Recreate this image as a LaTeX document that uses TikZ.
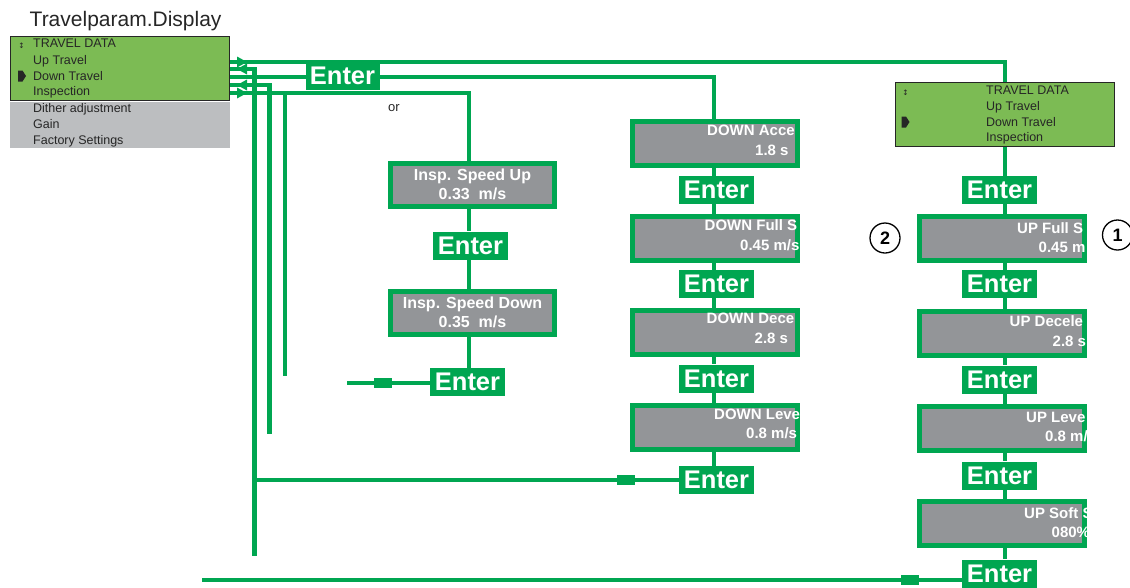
\documentclass[tikz,border=0pt]{standalone}
\usepackage{fontspec}
\setmainfont{Liberation Sans}
\newfontfamily\symfont{DejaVu Sans}
\definecolor{lg}{RGB}{0,166,81}
\definecolor{dispgreen}{RGB}{124,187,84}
\definecolor{dispgray}{RGB}{188,190,192}
\definecolor{boxgray}{RGB}{147,149,152}
\pgfdeclarelayer{bg}
\pgfsetlayers{bg,main}
\begin{document}
\begin{tikzpicture}[x=1pt,y=-1pt,
  conn/.style={draw=lg,line width=4.8pt},
  enterbox/.style={fill=lg,text=white,inner sep=0pt,minimum width=75pt,minimum height=28pt,font=\fontsize{25.5}{26}\selectfont\bfseries},
  valbox/.style={draw=lg,line width=5pt,fill=boxgray,inner sep=0pt,minimum width=165pt,minimum height=44pt},
  valtext/.style={text=white,inner sep=0pt,anchor=base west,font=\fontsize{15}{16}\selectfont\bfseries},
  insptext/.style={text=white,inner sep=0pt,anchor=base,font=\fontsize{16}{17}\selectfont\bfseries},
  disptext/.style={inner sep=0pt,anchor=base west,font=\fontsize{12.5}{14}\selectfont,text=black!85},
  display/.style={draw=black!85,line width=1.2pt,fill=dispgreen,inner sep=0pt,minimum width=218.8pt,minimum height=63.8pt},
  marker/.style={fill=lg,minimum width=18pt,minimum height=10pt,inner sep=0pt},
  numcirc/.style={draw=black,line width=1.3pt,circle,minimum size=30pt,inner sep=0pt,font=\fontsize{18}{18}\selectfont\bfseries},
  pointer/.style={fill=black!85}
]
\useasboundingbox (0,0) rectangle (1130,587);

% ---------- left display ----------
\node[inner sep=0pt,anchor=base west,font=\fontsize{21}{22}\selectfont,text=black!85] (title) at (29.5,26.7) {Travelparam.Display};
\node[display] (d1) at (120,68.5) {};
\node[fill=dispgray,inner sep=0pt,minimum width=220pt,minimum height=46pt] (d1g) at (120,125) {};
\node[disptext] (t1) at (33,47.8) {TRAVEL DATA};
\node[disptext] (t2) at (33,64.3) {Up Travel};
\node[disptext] (t3) at (33,80) {Down Travel};
\node[disptext] (t4) at (33,95.8) {Inspection};
\node[disptext] (t5) at (33,112.6) {Dither adjustment};
\node[disptext] (t6) at (33,128.4) {Gain};
\node[disptext] (t7) at (33,144.3) {Factory Settings};
\node[inner sep=0pt,text=black!85,font=\symfont\fontsize{7.5}{7.5}\selectfont] (s1) at (21.5,46) {↕};
\fill[pointer] (18,70.5) -- (22.5,70.5) -- (26,76) -- (22.5,81.5) -- (18,81.5) -- cycle;

% ---------- top Enter and "or" ----------
\node[enterbox,minimum width=74pt] (e0) at (342.5,76) {Enter};
\node[inner sep=0pt,anchor=base west,font=\fontsize{13}{14}\selectfont,text=black!85] (or) at (388,111) {or};

% ---------- inspection column ----------
\coordinate (ix) at (469,0);
\node[valbox,minimum width=164pt,minimum height=43pt] (iU) at (472.5,185) {};
\node[insptext] (iU1) at (472.5,180) {Insp. Speed Up};
\node[insptext] (iU2) at (472.5,199) {0.33\ \ m/s};
\node[enterbox] (iE1) at (470.5,245.5) {Enter};
\node[valbox,minimum width=164pt,minimum height=43pt] (iD) at (472.5,313) {};
\node[insptext] (iD1) at (472.5,308) {Insp. Speed Down};
\node[insptext] (iD2) at (472.5,327) {0.35\ \ m/s};
\node[enterbox] (iE2) at (467.5,382) {Enter};
\node[marker] (mi) at (383,383) {};
\coordinate (fi) at (347,383);

% ---------- DOWN column ----------
\coordinate (dx) at (714,0);
\node[valbox] (dA) at (715,143.5) {};
\node[enterbox] (dE1) at (716.5,190) {Enter};
\node[valbox] (dF) at (715,238.5) {};
\node[enterbox] (dE2) at (716.5,284) {Enter};
\node[valbox] (dD) at (715,332.5) {};
\node[enterbox] (dE3) at (716.5,378.5) {Enter};
\node[valbox] (dL) at (715,427.5) {};
\node[enterbox] (dE4) at (716.5,480) {Enter};
\node[marker] (md) at (625.5,480) {};

\begin{scope}
\clip (dA.north west) rectangle (dA.south east);
\node[valtext] (dA1) at (707,135.5) {DOWN Acce};
\node[valtext] (dA2) at (755,155.5) {1.8 s};
\end{scope}
\begin{scope}
\clip (dF.north west) rectangle (dF.south east);
\node[valtext] (dF1) at (704.5,230) {DOWN Full S};
\node[valtext] (dF2) at (740,250) {0.45 m/s};
\end{scope}
\begin{scope}
\clip (dD.north west) rectangle (dD.south east);
\node[valtext] (dD1) at (706.5,323.5) {DOWN Dece};
\node[valtext] (dD2) at (754.5,343) {2.8 s};
\end{scope}
\begin{scope}
\clip (dL.north west) rectangle (dL.south east);
\node[valtext] (dL1) at (714,419) {DOWN Leve};
\node[valtext] (dL2) at (746,438) {0.8 m/s};
\end{scope}

% ---------- UP column ----------
\coordinate (ux) at (1005,0);
\node[display] (d2) at (1005,114.5) {};
\node[disptext] (r1) at (986,94) {TRAVEL DATA};
\node[disptext] (r2) at (986,110) {Up Travel};
\node[disptext] (r3) at (986,126) {Down Travel};
\node[disptext] (r4) at (986,141.7) {Inspection};
\node[inner sep=0pt,text=black!85,font=\symfont\fontsize{7.5}{7.5}\selectfont] (s2) at (905.5,93) {↕};
\fill[pointer] (901.5,116.5) -- (906,116.5) -- (909.5,122) -- (906,127.5) -- (901.5,127.5) -- cycle;

\node[enterbox] (uE1) at (999.5,190) {Enter};
\node[valbox] (uF) at (1002,238.5) {};
\node[enterbox] (uE2) at (999.5,284) {Enter};
\node[valbox] (uD) at (1002,333.5) {};
\node[enterbox] (uE3) at (999.5,379.5) {Enter};
\node[valbox] (uL) at (1002,428.5) {};
\node[enterbox] (uE4) at (999.5,475.5) {Enter};
\node[valbox] (uS) at (1002,523.5) {};
\node[enterbox] (uE5) at (999.5,573.5) {Enter};
\node[marker] (mu) at (909.5,580) {};
\coordinate (fb) at (202,580);

\begin{scope}
\clip (uF.north west) rectangle (uF.south east);
\node[valtext] (uF1) at (1017,233.5) {UP Full S};
\node[valtext] (uF2) at (1038.5,252.5) {0.45 m};
\end{scope}
\begin{scope}
\clip (uD.north west) rectangle (uD.south east);
\node[valtext] (uD1) at (1009.5,326.5) {UP Decele};
\node[valtext] (uD2) at (1052.5,346) {2.8 s};
\end{scope}
\begin{scope}
\clip (uL.north west) rectangle (uL.south east);
\node[valtext] (uL1) at (1026,422) {UP Leve};
\node[valtext] (uL2) at (1045,441.5) {0.8 m/};
\end{scope}
\begin{scope}
\clip (uS.north west) rectangle (uS.south east);
\node[valtext] (uS1) at (1024,518) {UP Soft S};
\node[valtext] (uS2) at (1051.5,537) {080\%};
\end{scope}

\node[numcirc] (c2) at (885,238) {2};
\node[numcirc] (c1) at (1117.5,235) {1};

% ---------- routing coordinates ----------
\coordinate (k1) at (1005,62);
\coordinate (k2) at (254.5,69);
\coordinate (k2b) at (254.5,556);
\coordinate (k3) at (714,77);
\coordinate (k4) at (269.5,85);
\coordinate (k4b) at (269.5,434);
\coordinate (k5) at (469,93);
\coordinate (k6) at (285,93);
\coordinate (k6b) at (285,376);

% ---------- connectors ----------
\begin{pgfonlayer}{bg}
\draw[conn] (d1.east |- k1) -- (k1) -- (d2.north -| k1);
\draw[conn] (d1.east |- k2) -- (k2) -- (k2b);
\draw[conn] (d1.east |- k3) -- (k3) -- (dA.north -| k3);
\draw[conn] (d1.east |- k4) -- (k4) -- (k4b);
\draw[conn] (d1.east |- k5) -- (k5) -- (iU.north -| k5);
\draw[conn] (k6) -- (k6b);
% inspection column
\draw[conn] (iU.south -| ix) -- (iE1.north -| ix);
\draw[conn] (iE1.south -| ix) -- (iD.north -| ix);
\draw[conn] (iD.south -| ix) -- (iE2.north -| ix);
\draw[conn] (fi) -- (fi -| iE2.west);
% DOWN column
\draw[conn] (dA.south -| dx) -- (dE1.north -| dx);
\draw[conn] (dE1.south -| dx) -- (dF.north -| dx);
\draw[conn] (dF.south -| dx) -- (dE2.north -| dx);
\draw[conn] (dE2.south -| dx) -- (dD.north -| dx);
\draw[conn] (dD.south -| dx) -- (dE3.north -| dx);
\draw[conn] (dE3.south -| dx) -- (dL.north -| dx);
\draw[conn] (dL.south -| dx) -- (dE4.north -| dx);
\draw[conn] (k2b |- dE4.west) -- (dE4.west);
% UP column
\draw[conn] (d2.south -| ux) -- (uE1.north -| ux);
\draw[conn] (uE1.south -| ux) -- (uF.north -| ux);
\draw[conn] (uF.south -| ux) -- (uE2.north -| ux);
\draw[conn] (uE2.south -| ux) -- (uD.north -| ux);
\draw[conn] (uD.south -| ux) -- (uE3.north -| ux);
\draw[conn] (uE3.south -| ux) -- (uL.north -| ux);
\draw[conn] (uL.south -| ux) -- (uE4.north -| ux);
\draw[conn] (uE4.south -| ux) -- (uS.north -| ux);
\draw[conn] (uS.south -| ux) -- (uE5.north -| ux);
\draw[conn] (fb) -- (fb -| uE5.west);
\end{pgfonlayer}

% ---------- arrowheads at the display ----------
\fill[lg] (237,56.5) -- (247,62) -- (237,67.5) -- cycle;
\fill[lg] (237,69) -- (247,63.5) -- (247,74.5) -- cycle;
\fill[lg] (237,85) -- (247,79.5) -- (247,90.5) -- cycle;
\fill[lg] (237,87.5) -- (247,93) -- (237,98.5) -- cycle;
\end{tikzpicture}
\end{document}
